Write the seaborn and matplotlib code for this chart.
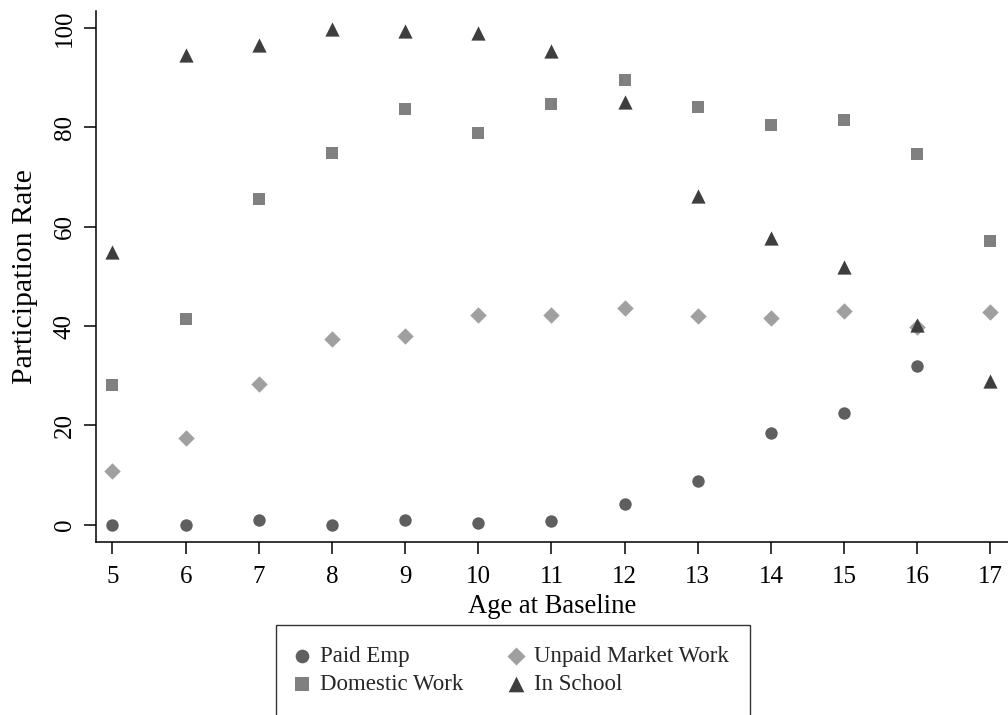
import seaborn as sns
import pandas as pd
import numpy as np
import matplotlib.pyplot as plt

ages = [5, 6, 7, 8, 9, 10, 11, 12, 13, 14, 15, 16, 17]
paid_emp = [0.0, 0.0, 1.0, 0.0, 0.9, 0.4, 0.8, 4.2, 8.9, 18.5, 22.4, 31.9, np.nan]
unpaid_market = [10.9, 17.5, 28.3, 37.4, 38.0, 42.3, 42.3, 43.7, 42.1, 41.7, 43.1, 39.8, 42.9]
domestic = [28.1, 41.5, 65.5, 74.9, 83.6, 78.9, 84.7, 89.6, 84.0, 80.4, 81.4, 74.7, 57.1]
in_school = [54.9, 94.5, 96.5, 99.7, 99.4, 98.9, 95.3, 85.0, 66.1, 57.7, 51.9, 40.2, 28.9]

labels = ["Paid Emp", "Unpaid Market Work", "Domestic Work", "In School"]
colors = ["#5f5f5f", "#a0a0a0", "#808080", "#3e3e3e"]
markers = ["o", "D", "s", "^"]
sizes = [80, 70, 80, 105]

df = pd.DataFrame({
    "age": ages * 4,
    "rate": paid_emp + unpaid_market + domestic + in_school,
    "series": [l for l in labels for _ in ages],
})

sns.set_theme(style="white")
plt.rcParams["font.family"] = ["Liberation Serif", "DejaVu Serif"]

fig = plt.figure(figsize=(10.08, 7.15), dpi=100)
ax = fig.add_axes([0.0949, 0.2424, 0.9051, 0.7422])

# draw in order so triangles sit on top of diamonds
for lab, col, mk, sz in zip(labels, colors, markers, sizes):
    sns.scatterplot(data=df[df["series"] == lab], x="age", y="rate", color=col,
                    marker=mk, s=sz, linewidth=0, ax=ax, label=lab, zorder=3)

ax.set_xlim(4.77, 17.24)
ax.set_ylim(-3.4, 103.4)
ax.set_xticks(ages)
ax.set_yticks([0, 20, 40, 60, 80, 100])
ax.tick_params(axis="both", direction="out", length=8.5, width=1.1, color="black",
               labelsize=18, labelcolor="black", bottom=True, left=True)
ax.tick_params(axis="x", pad=9)
ax.tick_params(axis="y", pad=6)
for t in ax.get_yticklabels():
    t.set_rotation(90)
    t.set_va("center")
sns.despine(ax=ax)
for s in ["left", "bottom"]:
    ax.spines[s].set_color("black")
    ax.spines[s].set_linewidth(1.1)

ax.set_xlabel("Age at Baseline", fontsize=19.2, color="black")
ax.set_ylabel("Participation Rate", fontsize=21.5, color="black")
ax.xaxis.set_label_coords(0.5, -0.123)
ax.yaxis.set_label_coords(-0.077, 0.5)
ax.xaxis.label.set_va("center")
ax.yaxis.label.set_va("center")

h, l = ax.get_legend_handles_labels()
ax.get_legend().remove()
order = [0, 2, 1, 3]
leg = fig.legend([h[i] for i in order], [l[i] for i in order], ncol=2,
                 loc="upper center", bbox_to_anchor=(0.509, 0.126),
                 borderaxespad=0, fontsize=16.5, frameon=True, fancybox=False,
                 edgecolor="black", borderpad=0.9, labelspacing=0.32,
                 handletextpad=0.6, handlelength=0.4, columnspacing=2.1,
                 markerscale=1.1)
leg.get_frame().set_linewidth(1.0)

fig.savefig("out.png", dpi=100)
